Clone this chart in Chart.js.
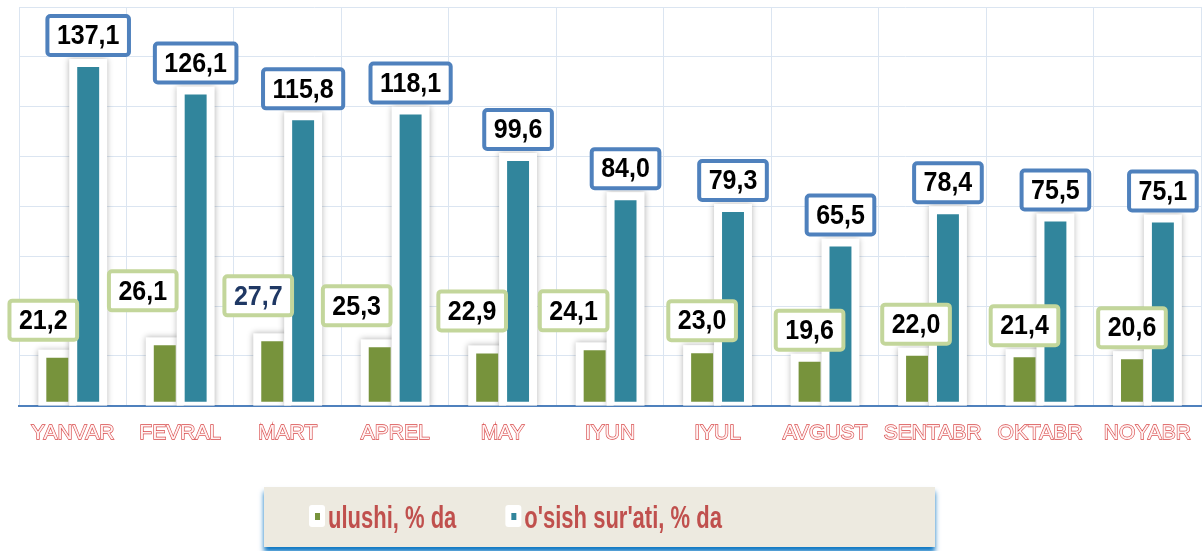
<!DOCTYPE html>
<html>
<head>
<meta charset="utf-8">
<script src="https://cdn.jsdelivr.net/npm/chart.js@4.4.0/dist/chart.umd.min.js"></script>
<style>
  html, body { margin: 0; padding: 0; background: #fff; overflow: hidden; }
  #wrap { width: 1203px; height: 551px; overflow: hidden; }
  canvas { display: block; }
</style>
</head>
<body>
<div id="wrap"><canvas id="chart" width="1206" height="551"></canvas></div>
<script>
// data
const months = ['YANVAR', 'FEVRAL', 'MART', 'APREL', 'MAY', 'IYUN', 'IYUL', 'AVGUST', 'SENTABR', 'OKTABR', 'NOYABR'];
const ulushi = [21.2, 26.1, 27.7, 25.3, 22.9, 24.1, 23.0, 19.6, 22.0, 21.4, 20.6];
const osish = [137.1, 126.1, 115.8, 118.1, 99.6, 84.0, 79.3, 65.5, 78.4, 75.5, 75.1];
const seriesNames = ['ulushi, % da', "o'sish sur'ati, % da"];

// label layout tweaks for the green tags (they sit a bit off in the original)
const greenTagShiftX = [-14, -22, -14, -23, -15, -21, 0, 0, -1, 0, 0];
const greenTagGap = [16, 33, 24, 20, 21, 18, 11, 10, 10, 10, 10];
const greenTagText = ['#000', '#000', '#1f3864', '#000', '#000', '#000', '#000', '#000', '#000', '#000', '#000'];

const GREEN = '#77933c';
const TEAL = '#31859c';
const FONT = '"Liberation Sans", Arial, sans-serif';

const fmt = v => v.toFixed(1).replace('.', ',');

// white halo behind every bar
const barGlow = {
  id: 'barGlow',
  beforeDatasetsDraw(chart) {
    const { ctx, chartArea: a } = chart;
    ctx.save();
    ctx.beginPath();
    ctx.rect(a.left, a.top - 12, a.right - a.left, a.bottom - a.top + 12);
    ctx.clip();
    chart.data.datasets.forEach((ds, i) => {
      chart.getDatasetMeta(i).data.forEach(bar => {
        const { x, y, width } = bar.getProps(['x', 'y', 'width'], true);
        ctx.shadowColor = 'rgba(0,0,0,0.3)';
        ctx.shadowBlur = 6;
        ctx.fillStyle = '#fff';
        ctx.fillRect(x - width / 2 - 8, y - 8, width + 16, a.bottom - y + 8);
      });
    });
    ctx.restore();
  }
};

function drawTag(ctx, text, cx, bottom, border, color) {
  ctx.save();
  ctx.font = 'bold 25px ' + FONT;
  const w = ctx.measureText(text).width + 23, h = 43;
  const left = cx - w / 2, top = bottom - h;
  ctx.lineWidth = 4;
  ctx.strokeStyle = border;
  ctx.fillStyle = '#fff';
  ctx.beginPath();
  ctx.roundRect(left + 2, top + 2, w - 4, h - 4, 3);
  ctx.fill();
  ctx.stroke();
  ctx.translate(cx, top + h / 2 + 1);
  ctx.scale(1, 1.12);
  ctx.fillStyle = color;
  ctx.textAlign = 'center';
  ctx.textBaseline = 'middle';
  ctx.fillText(text, 0, 0);
  ctx.restore();
}

const valueTags = {
  id: 'valueTags',
  afterDatasetsDraw(chart) {
    const ctx = chart.ctx;
    chart.getDatasetMeta(0).data.forEach((bar, i) => {
      drawTag(ctx, fmt(ulushi[i]), bar.x + greenTagShiftX[i], bar.y - greenTagGap[i], '#c3d69b', greenTagText[i]);
    });
    chart.getDatasetMeta(1).data.forEach((bar, i) => {
      drawTag(ctx, fmt(osish[i]), bar.x, bar.y - 10, '#4f81bd', '#000');
    });
  }
};

// boxed legend at the bottom
const boxLegend = {
  id: 'boxLegend',
  afterDraw(chart) {
    const ctx = chart.ctx;
    ctx.save();
    ctx.shadowColor = 'rgba(0,112,192,0.95)';
    ctx.shadowBlur = 5;
    ctx.shadowOffsetY = 5;
    ctx.fillStyle = '#edeae0';
    ctx.fillRect(264, 487, 671, 60);
    ctx.restore();

    ctx.save();
    ctx.font = 'bold 22px ' + FONT;
    let x = 309;
    const baseY = 528;
    chart.data.datasets.forEach(ds => {
      ctx.fillStyle = '#fff';
      ctx.beginPath();
      ctx.roundRect(x, 505, 16, 22, 3);
      ctx.fill();
      ctx.fillStyle = ds.backgroundColor;
      ctx.fillRect(x + 6, 513, 5, 7);
      x += 19;
      ctx.save();
      ctx.translate(x, baseY);
      ctx.scale(1, 1.45);
      ctx.fillStyle = '#c0504d';
      ctx.textBaseline = 'alphabetic';
      ctx.fillText(ds.label, 0, 0);
      ctx.restore();
      x += ctx.measureText(ds.label).width + 49;
    });
    ctx.restore();
  }
};

new Chart(document.getElementById('chart'), {
  type: 'bar',
  data: {
    labels: months,
    datasets: [
      { label: seriesNames[0], data: ulushi, backgroundColor: GREEN, base: 3.6 },
      { label: seriesNames[1], data: osish, backgroundColor: TEAL, base: 3.6 }
    ]
  },
  options: {
    responsive: false,
    animation: false,
    categoryPercentage: 0.575,
    barPercentage: 0.71,
    layout: { padding: { left: 19, right: 0, top: 7, bottom: 90 } },
    scales: {
      x: {
        grid: { color: '#dbe5f1', drawTicks: false },
        border: { color: '#4f81bd', width: 2 },
        ticks: {
          padding: 15,
          color: '#fff2f2',
          textStrokeColor: '#d84a4a',
          textStrokeWidth: 1.3,
          font: { family: FONT, size: 21 }
        }
      },
      y: {
        min: 2,
        max: 161,
        grid: { color: '#dbe5f1', drawTicks: false },
        border: { display: false },
        ticks: { display: false, count: 9 }
      }
    },
    plugins: {
      legend: { display: false },
      tooltip: { enabled: false }
    }
  },
  plugins: [barGlow, valueTags, boxLegend]
});
</script>
</body>
</html>
